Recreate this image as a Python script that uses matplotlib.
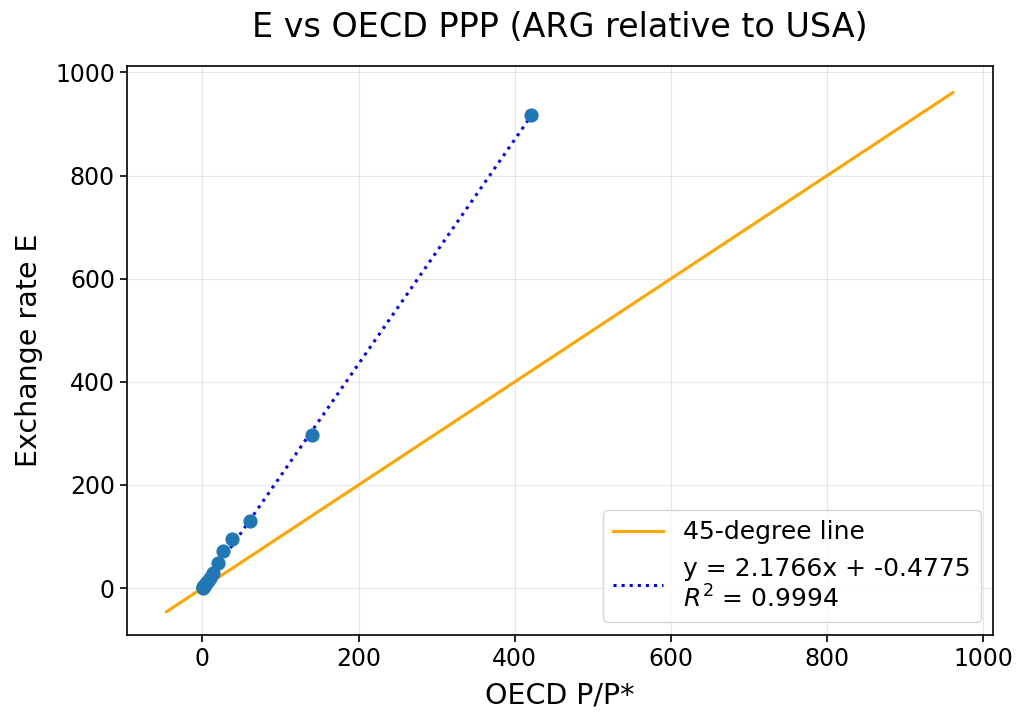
import numpy as np
import matplotlib.pyplot as plt

# OECD P/P* vs exchange rate E (ARG relative to USA)
ppp_ratio = [0.3, 0.6, 1.0, 1.6, 2.4, 3.5, 5.0, 7.0, 9.5, 13.2, 20.5, 26.9, 38.1, 61.2, 139.7, 420.5]
exch_rate = [0.9, 1.0, 1.8, 3.0, 4.5, 6.5, 9.5, 14.0, 20.0, 29.7, 49.0, 72.4, 94.6, 130.7, 296.0, 917.0]

slope = 2.1766
intercept = -0.4775
r2 = 0.9994

diag_range = [-46, 961]

fig, ax = plt.subplots(figsize=(10.22, 7.15), dpi=100)
fig.subplots_adjust(left=0.124, right=0.972, top=0.908, bottom=0.112)

ax.scatter(ppp_ratio, exch_rate, s=85, color='tab:blue', zorder=3)
ax.plot(diag_range, diag_range, color='orange', lw=2.2, label='45-degree line')
xfit = np.array([min(ppp_ratio), max(ppp_ratio)])
ax.plot(xfit, slope * xfit + intercept, color='blue', ls=':', lw=2.2,
        label=f'y = {slope:.4f}x + {intercept:.4f}\n$R^2$ = {r2:.4f}')

ax.set_xlim(-97, 1013)
ax.set_ylim(-91, 1013)
ax.grid(True, alpha=0.3)
ax.tick_params(labelsize=17, width=1.2, length=5)
for s in ax.spines.values():
    s.set_linewidth(1.2)
ax.set_xlabel('OECD P/P*', fontsize=20.5, labelpad=8)
ax.set_ylabel('Exchange rate E', fontsize=20.5, labelpad=9)
ax.set_title('E vs OECD PPP (ARG relative to USA)', fontsize=24, pad=21)
ax.legend(loc='lower right', fontsize=18)

plt.savefig('out.png')
